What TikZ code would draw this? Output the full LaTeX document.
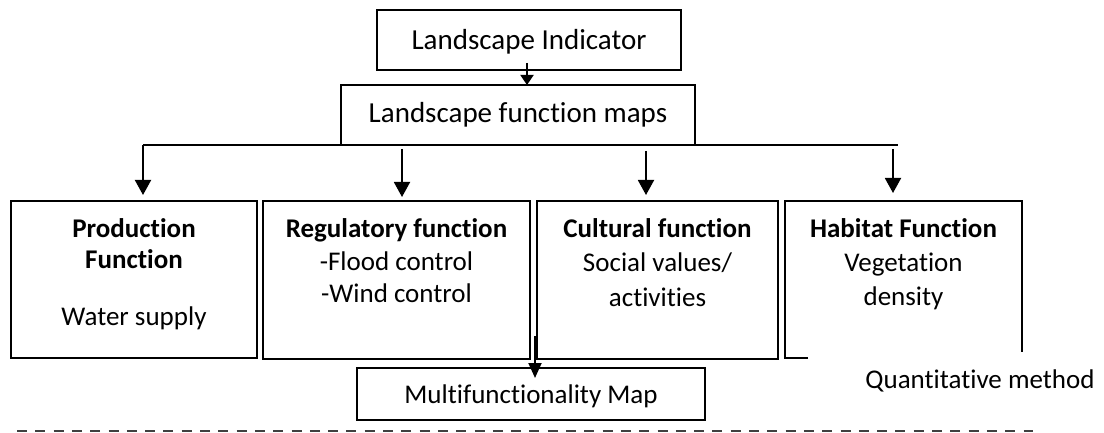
\documentclass[tikz,border=0pt]{standalone}
\usepackage{fontspec}
\setmainfont{Carlito}[Ligatures=NoCommon]
\usetikzlibrary{arrows.meta}
\begin{document}
\begin{tikzpicture}[x=1pt,y=-1pt,
  box/.style={draw,line width=1.9pt,inner sep=0pt},
  txt/.style={anchor=base,inner sep=0pt,font=\fontsize{27}{32}\selectfont},
  ttxt/.style={anchor=base,inner sep=0pt,font=\fontsize{29}{34}\selectfont},
  btxt/.style={txt,font=\fontsize{27}{32}\selectfont\bfseries},
  conn/.style={line width=1.9pt},
  arr/.style={line width=1.9pt,-{Triangle[width=16pt,length=15pt]}},
  sarr/.style={line width=1.9pt,-{Triangle[width=13pt,length=10pt]}},
  marr/.style={line width=1.9pt,-{Triangle[width=13pt,length=15pt]}}
]
\useasboundingbox (0,0) rectangle (1104,433);

% boxes
\node[box,minimum width=304pt,minimum height=60pt] (ind) at (529,40) {};
\node[box,minimum width=354pt,minimum height=60pt] (maps) at (518,115) {};
\node[box,minimum width=246pt,minimum height=157pt] (prod) at (134,279.5) {};
\node[box,minimum width=267pt,minimum height=158pt] (reg) at (396.5,280) {};
\node[box,minimum width=241pt,minimum height=158pt] (cult) at (657.5,280) {};
\node[box,minimum width=348pt,minimum height=52pt] (multi) at (531,394) {};

% habitat (open box)
\coordinate (h1) at (808,358);
\coordinate (h2) at (785,358);
\coordinate (h3) at (785,201);
\coordinate (h4) at (1022,201);
\coordinate (h5) at (1022,352);
\draw[conn] (h1) -- (h2) -- (h3) -- (h4) -- (h5);

% texts
\node[ttxt] (tind) at (529,50) {Landscape Indicator};
\node[ttxt] (tmaps) at (518,123) {Landscape function maps};

\node[btxt] (tp1) at (134,237) {Production};
\node[btxt] (tp2) at (134,269) {Function};
\node[txt] (tp3) at (134,325) {Water supply};

\node[btxt] (tr1) at (396.5,237) {Regulatory function};
\node[txt] (tr2) at (396.5,270) {-Flood control};
\node[txt] (tr3) at (396.5,302) {-Wind control};

\node[btxt] (tc1) at (657.5,237) {Cultural function};
\node[txt] (tc2) at (657.5,271) {Social values/};
\node[txt] (tc3) at (657.5,306) {activities};

\node[btxt] (th1) at (903.5,237) {Habitat Function};
\node[txt] (th2) at (903.5,271) {Vegetation};
\node[txt] (th3) at (903.5,305) {density};

\node[txt] (tq) at (980,388) {Quantitative method};
\node[txt] (tm) at (531,403) {Multifunctionality Map};

% connectors
\coordinate (s0) at (527,63);
\coordinate (e0) at (527,85);
\draw[sarr] (s0) -- (e0);

\coordinate (hl) at (143,145);
\coordinate (hr) at (898,145);
\draw[conn] (hl) -- (hr);

\coordinate (e1) at (143,195);
\draw[arr] (hl) -- (e1);
\coordinate (s2) at (402,149);
\coordinate (e2) at (402,197);
\draw[arr] (s2) -- (e2);
\coordinate (s3) at (646,151);
\coordinate (e3) at (646,195);
\draw[arr] (s3) -- (e3);
\coordinate (s4) at (893,149);
\coordinate (e4) at (893,193);
\draw[arr] (s4) -- (e4);
\coordinate (s5) at (535,336);
\coordinate (e5) at (535,378);
\draw[marr] (s5) -- (e5);

% dashed line
\coordinate (d1) at (17,431);
\coordinate (d2) at (1033,431);
\draw[line width=2pt,dash pattern=on 10pt off 8.3pt,draw=black!75] (d1) -- (d2);
\end{tikzpicture}
\end{document}
